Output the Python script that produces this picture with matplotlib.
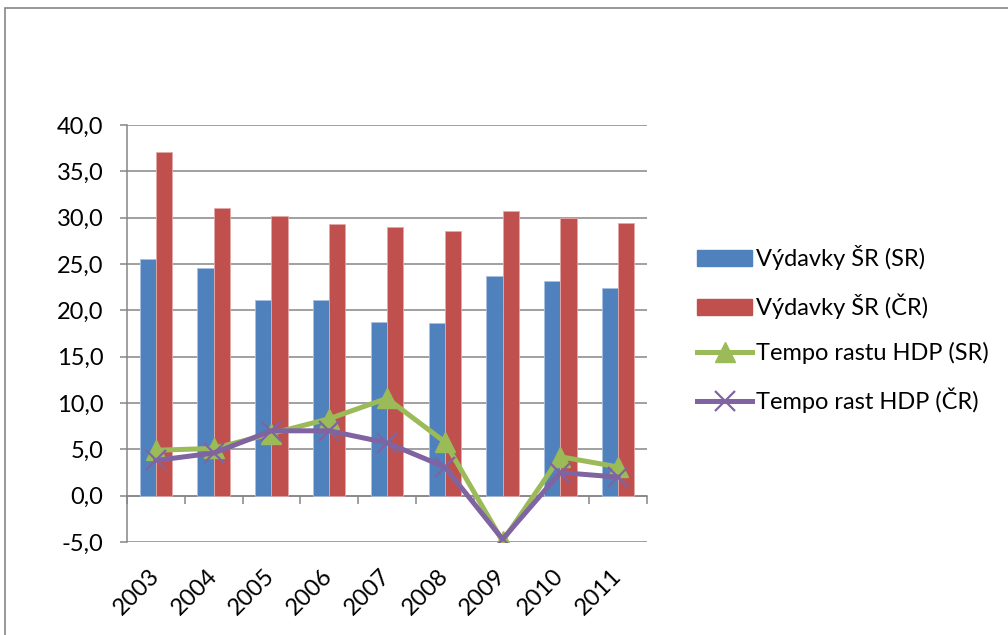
import numpy as np
import matplotlib
matplotlib.use('Agg')
from matplotlib import pyplot as plt
from matplotlib.patches import Rectangle, Patch
from matplotlib.lines import Line2D
from matplotlib.ticker import FuncFormatter

plt.rcParams['font.family'] = ['Lato', 'DejaVu Sans']

years = ['2003', '2004', '2005', '2006', '2007', '2008', '2009', '2010', '2011']
vydavky_sr = [25.5, 24.6, 21.1, 21.1, 18.7, 18.6, 23.7, 23.2, 22.4]
vydavky_cr = [37.1, 31.0, 30.2, 29.3, 29.0, 28.6, 30.7, 30.0, 29.4]
hdp_sr = [4.9, 5.1, 6.7, 8.3, 10.5, 5.8, -4.9, 4.2, 3.1]
hdp_cr = [3.8, 4.6, 7.0, 7.0, 5.7, 3.1, -4.7, 2.5, 2.0]
labels = ['Výdavky ŠR (SR)', 'Výdavky ŠR (ČR)', 'Tempo rastu HDP (SR)', 'Tempo rast HDP (ČR)']

blue = '#4F81BD'
red = '#C0504D'
green = '#9BBB59'
purple = '#8064A2'
grey = '#868686'
fs = 17

fig = plt.figure(figsize=(10.08, 6.35), dpi=100)
fig.patches.append(Rectangle((5 / 1008, -0.1), 1.2, 1.1 - 8 / 635, transform=fig.transFigure,
                             fill=False, edgecolor=grey, linewidth=1.2))

ax = fig.add_axes([127 / 1008, 1 - 542 / 635, 520 / 1008, 417 / 635])
x = np.arange(len(years))
w = 0.28
ax.bar(x - w / 2, vydavky_sr, w, color=blue, edgecolor='#a9c0e0', linewidth=0.6, zorder=2)
ax.bar(x + w / 2, vydavky_cr, w, color=red, edgecolor='#e3a9a8', linewidth=0.6, zorder=2)
ax.plot(x, hdp_sr, color=green, linewidth=3.6, marker='^', markersize=15, zorder=4)
ax.plot(x, hdp_cr, color=purple, linewidth=3.6, marker='x', markersize=14,
        markeredgewidth=1.6, zorder=5)

ax.set_xlim(-0.5, len(years) - 0.5)
ax.set_ylim(-5, 40)
ax.set_yticks(np.arange(-5, 41, 5))
ax.yaxis.set_major_formatter(FuncFormatter(lambda v, p: f'{v:.1f}'.replace('.', ',')))
ax.grid(axis='y', color=grey, linewidth=1.1, zorder=0)
ax.set_axisbelow(True)
for s in ['top', 'right']:
    ax.spines[s].set_visible(False)
ax.spines['left'].set_color(grey)
ax.spines['left'].set_linewidth(1.1)
ax.spines['bottom'].set_visible(False)
ax.tick_params(axis='y', length=5, color=grey, width=1.1, pad=12, labelsize=fs)

ax.set_xticks(x)
ax.set_xticklabels(years, rotation=45, ha='right', va='center', rotation_mode='anchor', fontsize=fs)
ax.tick_params(axis='x', length=0, pad=22)

# zero axis with category boundary ticks
sec = ax.secondary_xaxis(5 / 45)
sec.set_xticks(np.arange(-0.5, len(years), 1.0))
sec.set_xticklabels([])
sec.tick_params(axis='x', length=6, color=grey, width=1.1, direction='out')
sec.spines['bottom'].set_color(grey)
sec.spines['bottom'].set_linewidth(1.1)

handles = [Patch(color=blue), Patch(color=red),
           Line2D([], [], color=green, linewidth=3.6, marker='^', markersize=15),
           Line2D([], [], color=purple, linewidth=3.6, marker='x', markersize=14, markeredgewidth=1.6)]
fig.legend(handles, labels, loc='upper left', bbox_to_anchor=(688 / 1008, 1 - 236 / 635),
           frameon=False, fontsize=fs, handlelength=2.3, handletextpad=0.2,
           labelspacing=0.98, borderaxespad=0)

fig.savefig('out.png', dpi=100)
